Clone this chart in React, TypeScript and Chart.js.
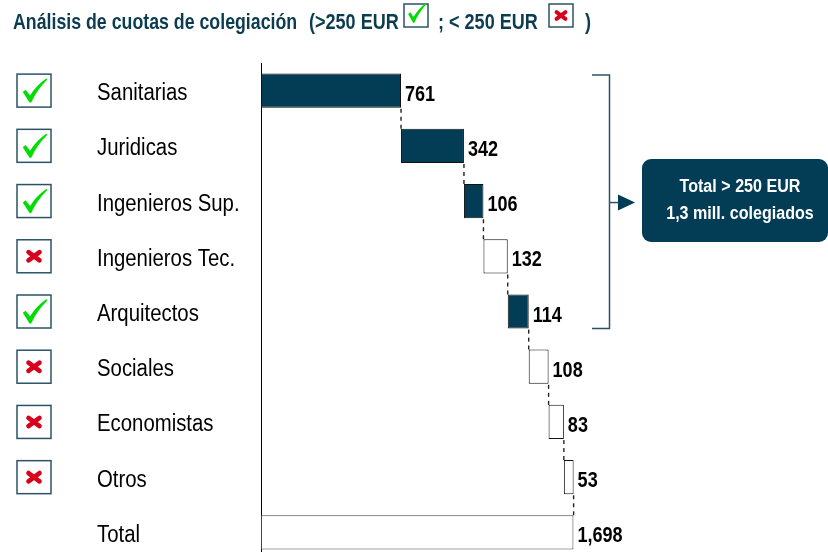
import React, { useEffect, useRef } from "react";
import { Chart, registerables } from "chart.js";

Chart.register(...registerables);

const categories = [
  "Sanitarias",
  "Juridicas",
  "Ingenieros Sup.",
  "Ingenieros Tec.",
  "Arquitectos",
  "Sociales",
  "Economistas",
  "Otros",
  "Total",
];
const values = [761, 342, 106, 132, 114, 108, 83, 53, 1698];
const valueLabels = ["761", "342", "106", "132", "114", "108", "83", "53", "1,698"];
// true = cuota > 250 EUR (check), false = < 250 EUR (cross), null = total row
const aboveThreshold: (boolean | null)[] = [true, true, true, false, true, false, false, false, null];
const titleParts = ["Análisis de cuotas de colegiación", "(>250 EUR", "; < 250 EUR", ")"];
const calloutLines = ["Total > 250 EUR", "1,3 mill. colegiados"];

const DARK = "#023d55";
const FONT = '"Liberation Sans", Arial, sans-serif';

// floating ranges for the waterfall
const ranges: [number, number][] = (() => {
  const out: [number, number][] = [];
  let acc = 0;
  values.forEach((v, i) => {
    if (i === values.length - 1) {
      out.push([0, v]);
    } else {
      out.push([acc, acc + v]);
      acc += v;
    }
  });
  return out;
})();

function narrowText(
  ctx: CanvasRenderingContext2D,
  text: string,
  x: number,
  y: number,
  font: string,
  sx: number,
  color: string,
  align: CanvasTextAlign = "left"
) {
  ctx.save();
  ctx.font = font;
  ctx.fillStyle = color;
  ctx.textAlign = align;
  ctx.textBaseline = "alphabetic";
  ctx.translate(x, y);
  ctx.scale(sx, 1);
  ctx.fillText(text, 0, 0);
  ctx.restore();
}

function drawCheck(ctx: CanvasRenderingContext2D, x: number, y: number, w: number, h: number) {
  ctx.save();
  ctx.fillStyle = "#00dd00";
  ctx.beginPath();
  ctx.moveTo(x + w * 0.1, y + h * 0.55);
  ctx.lineTo(x + w * 0.2, y + h * 0.47);
  ctx.lineTo(x + w * 0.36, y + h * 0.68);
  ctx.quadraticCurveTo(x + w * 0.58, y + h * 0.3, x + w * 0.95, y + h * 0.04);
  ctx.lineTo(x + w * 0.97, y + h * 0.1);
  ctx.quadraticCurveTo(x + w * 0.62, y + h * 0.45, x + w * 0.4, y + h * 0.94);
  ctx.lineTo(x + w * 0.34, y + h * 0.94);
  ctx.closePath();
  ctx.fill();
  ctx.restore();
}

function drawCross(ctx: CanvasRenderingContext2D, cx: number, cy: number, s: number, lw: number) {
  ctx.save();
  ctx.strokeStyle = "#d8001c";
  ctx.lineWidth = lw;
  ctx.lineCap = "round";
  ctx.beginPath();
  ctx.moveTo(cx - s, cy - s * 0.75);
  ctx.lineTo(cx + s, cy + s * 0.75);
  ctx.moveTo(cx + s, cy - s * 0.75);
  ctx.lineTo(cx - s, cy + s * 0.75);
  ctx.stroke();
  ctx.restore();
}

function drawBox(ctx: CanvasRenderingContext2D, x: number, y: number, w: number, h: number) {
  ctx.save();
  ctx.fillStyle = "#ffffff";
  ctx.fillRect(x, y, w, h);
  ctx.strokeStyle = "#2a5466";
  ctx.lineWidth = 1.5;
  ctx.strokeRect(x, y, w, h);
  ctx.restore();
}

const decorPlugin = {
  id: "decor",
  afterDatasetsDraw(chart: any) {
    const ctx: CanvasRenderingContext2D = chart.ctx;
    const xs = chart.scales.x;
    const ys = chart.scales.y;
    const meta = chart.getDatasetMeta(0);
    const labels: string[] = chart.data.labels;

    // connectors
    ctx.save();
    ctx.strokeStyle = "#222";
    ctx.lineWidth = 1.4;
    ctx.setLineDash([4, 4]);
    for (let i = 0; i < ranges.length - 1; i++) {
      const b = meta.data[i];
      const n = meta.data[i + 1];
      const end = ranges[i][1];
      const px = xs.getPixelForValue(end);
      const y0 = b.y + b.height / 2 + 1;
      const y1 = n.y - n.height / 2;
      ctx.beginPath();
      ctx.moveTo(px, y0);
      ctx.lineTo(px, y1);
      ctx.stroke();
    }
    ctx.restore();

    // category labels & value labels
    ranges.forEach((r, i) => {
      const py = ys.getPixelForValue(i);
      narrowText(ctx, labels[i], 97, py + 9.5, `23px ${FONT}`, 0.885, "#000");
      const px = xs.getPixelForValue(r[1]);
      narrowText(ctx, valueLabels[i], px + 4, py + 10, `bold 22px ${FONT}`, 0.82, "#000");
    });

    // check boxes
    aboveThreshold.forEach((a, i) => {
      if (a === null) return;
      const py = ys.getPixelForValue(i);
      const bx = 17, bw = 34, bh = 33;
      const by = py - bh / 2;
      drawBox(ctx, bx, by, bw, bh);
      if (a) drawCheck(ctx, bx + 3, by + 3, bw - 6, bh - 6);
      else drawCross(ctx, bx + bw / 2, py, 5.5, 4.6);
    });

    // bracket + arrow + callout
    const top = meta.data[0].y - meta.data[0].height / 2;
    const bot = meta.data[4].y + meta.data[4].height / 2;
    const bxr = 609.5;
    ctx.save();
    ctx.strokeStyle = "#2a5466";
    ctx.lineWidth = 1.5;
    ctx.beginPath();
    ctx.moveTo(592, top + 1.5);
    ctx.lineTo(bxr, top + 1.5);
    ctx.lineTo(bxr, bot);
    ctx.lineTo(592, bot);
    ctx.stroke();
    const my = (top + bot) / 2 + 1.5;
    ctx.beginPath();
    ctx.moveTo(bxr, my);
    ctx.lineTo(620, my);
    ctx.stroke();
    ctx.fillStyle = DARK;
    ctx.beginPath();
    ctx.moveTo(618, my - 8);
    ctx.lineTo(635, my);
    ctx.lineTo(618, my + 8);
    ctx.closePath();
    ctx.fill();

    const rx = 642, ry = 159, rw = 186, rh = 83;
    ctx.beginPath();
    (ctx as any).roundRect(rx, ry, rw, rh, 9);
    ctx.fill();
    ctx.restore();
    narrowText(ctx, calloutLines[0], 740, 192, `bold 17.5px ${FONT}`, 0.92, "#ffffff", "center");
    narrowText(ctx, calloutLines[1], 740, 219, `bold 17.5px ${FONT}`, 0.92, "#ffffff", "center");

    // title
    const tf = `bold 22px ${FONT}`;
    const tc = "#0b3c50";
    narrowText(ctx, titleParts[0], 13, 29, tf, 0.807, tc);
    narrowText(ctx, titleParts[1], 309, 29, tf, 0.82, tc);
    narrowText(ctx, titleParts[2], 438, 29, tf, 0.82, tc);
    narrowText(ctx, titleParts[3], 585, 29, tf, 0.82, tc);
    drawBox(ctx, 404, 4, 24, 23);
    drawCheck(ctx, 406, 2, 21, 22);
    drawBox(ctx, 549, 4, 24, 23);
    drawCross(ctx, 561, 15.5, 4.5, 3.8);
  },
};

export default function App() {
  const ref = useRef<HTMLCanvasElement | null>(null);
  useEffect(() => {
    if (!ref.current) return;
    const chart = new Chart(ref.current, {
      type: "bar",
      data: {
        labels: categories,
        datasets: [
          {
            data: ranges as any,
            backgroundColor: aboveThreshold.map((a) => (a ? DARK : "#ffffff")),
            borderColor: aboveThreshold.map((a) => (a === null ? "#444" : "#111")),
            borderWidth: 1,
            borderSkipped: false,
            barPercentage: 0.62,
            categoryPercentage: 1,
            clip: false as any,
          },
        ],
      },
      options: {
        indexAxis: "y",
        responsive: false,
        maintainAspectRatio: false,
        animation: false,
        devicePixelRatio: 1,
        layout: { padding: { left: 97, right: 15, top: 63, bottom: 0 } },
        plugins: {
          legend: { display: false },
          title: { display: false },
          tooltip: { enabled: false },
        },
        scales: {
          x: {
            type: "linear",
            min: 0,
            max: 3000,
            display: false,
            grid: { display: false },
          },
          y: {
            type: "category",
            grid: { display: false, drawTicks: false },
            border: { display: true, color: "#000", width: 1 },
            ticks: { display: false },
            afterFit: (scale: any) => {
              scale.width = 164;
            },
          },
        },
      },
      plugins: [decorPlugin],
    });
    return () => chart.destroy();
  }, []);
  return (
    <div style={{ position: "fixed", left: 0, top: 0, width: 828, height: 552, overflow: "hidden", background: "#fff" }}>
      <div style={{ position: "relative", width: 828, height: 560 }}>
        <canvas ref={ref} width={828} height={560} style={{ display: "block", width: 828, height: 560 }} />
      </div>
    </div>
  );
}
